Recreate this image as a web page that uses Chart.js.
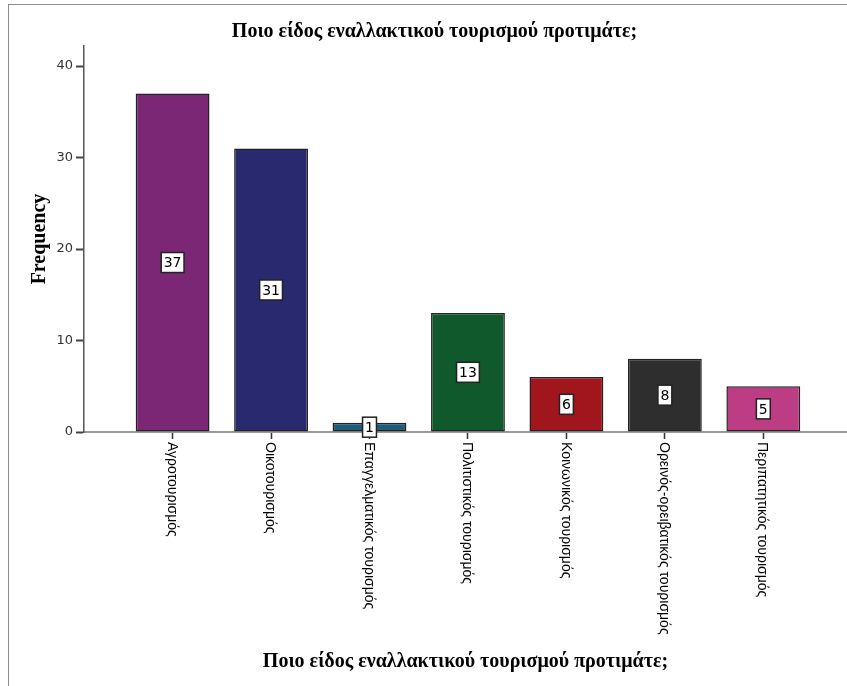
<!DOCTYPE html>
<html>
<head>
<meta charset="utf-8">
<script src="https://cdn.jsdelivr.net/npm/chart.js@4.4.0/dist/chart.umd.min.js"></script>
<style>
    html, body { margin: 0; padding: 0; background: #fff; }
    #wrap { position: relative; width: 847px; height: 686px; overflow: hidden; }
    #frame { position: absolute; left: 8px; top: 4px; width: 900px; height: 800px;
             border-left: 1px solid #8c8c8c; border-top: 1px solid #8c8c8c; pointer-events: none; }
</style>
</head>
<body>
<div id="wrap">
    <canvas id="freqChart" width="847" height="686"></canvas>
    <div id="frame"></div>
</div>
<script>
const chartTitle = 'Ποιο είδος εναλλακτικού τουρισμού προτιμάτε;';
const categories = [
    'Αγροτουρισμός',
    'Οικοτουρισμός',
    'Επαγγελματικός τουρισμός',
    'Πολιτιστικός τουρισμός',
    'Κοινωνικός τουρισμός',
    'Ορεινός-ορειβατικός τουρισμός',
    'Περιπατητικός τουρισμός'
];
const frequencies = [37, 31, 1, 13, 6, 8, 5];
const barColors = ['#7b2776', '#29296f', '#1d5d78', '#10592d', '#a1161d', '#2e2e2e', '#bd3d85'];
const yTicks = [0, 10, 20, 30, 40];

// value boxes in the middle of each bar
const barLabels = {
    id: 'barLabels',
    afterDatasetsDraw(chart) {
        const ctx = chart.ctx;
        const meta = chart.getDatasetMeta(0);
        ctx.save();
        ctx.font = '14px "DejaVu Sans"';
        ctx.textAlign = 'center';
        ctx.textBaseline = 'middle';
        meta.data.forEach((bar, i) => {
            const text = String(frequencies[i]);
            const cy = (bar.y + bar.base) / 2;
            const w = ctx.measureText(text).width + 5;
            const h = 20;
            ctx.fillStyle = '#fff';
            ctx.fillRect(bar.x - w / 2, cy - h / 2, w, h);
            ctx.strokeStyle = '#222';
            ctx.lineWidth = 1.5;
            ctx.strokeRect(bar.x - w / 2, cy - h / 2, w, h);
            ctx.fillStyle = '#000';
            ctx.fillText(text, bar.x, cy + 1);
        });
        ctx.restore();
    }
};

// category names rotated clockwise, reading downward from the tick
const rotatedTicks = {
    id: 'rotatedTicks',
    afterDraw(chart) {
        const ctx = chart.ctx;
        const xScale = chart.scales.x;
        ctx.save();
        ctx.font = '14px "Liberation Sans"';
        ctx.fillStyle = '#000';
        ctx.textAlign = 'left';
        ctx.textBaseline = 'middle';
        categories.forEach((name, i) => {
            ctx.save();
            ctx.translate(xScale.getPixelForValue(i) - 1, xScale.top + 10);
            ctx.rotate(Math.PI / 2);
            ctx.fillText(name, 0, 0);
            ctx.restore();
        });
        ctx.restore();
    }
};

new Chart(document.getElementById('freqChart').getContext('2d'), {
    type: 'bar',
    data: {
        datasets: [{
            label: 'Frequency',
            data: frequencies.map((v, i) => ({ x: i, y: v })),
            backgroundColor: barColors,
            borderColor: '#222',
            borderWidth: 1.5,
            borderSkipped: false,
            barPercentage: 0.75,
            categoryPercentage: 1
        }]
    },
    options: {
        responsive: false,
        animation: false,
        layout: { padding: { left: 22, right: 0, top: 0, bottom: 0 } },
        scales: {
            x: {
                type: 'linear',
                offset: false,
                min: -0.9,
                max: 6.85,
                afterBuildTicks: (scale) => {
                    scale.ticks = categories.map((c, i) => ({ value: i }));
                },
                afterFit: (scale) => { scale.height = 254; },
                ticks: { display: false },
                grid: { offset: false, drawOnChartArea: false, tickLength: 7, color: '#333', tickWidth: 1.5 },
                border: { color: '#9a9a9a', width: 2 },
                title: {
                    display: true,
                    text: chartTitle,
                    color: '#000',
                    font: { family: '"Liberation Serif"', size: 20, weight: 'bold' },
                    padding: { top: 0, bottom: 12 }
                }
            },
            y: {
                min: 0,
                max: 42.2,
                afterBuildTicks: (scale) => {
                    scale.ticks = yTicks.map(v => ({ value: v }));
                },
                afterFit: (scale) => { scale.width = 62; },
                ticks: {
                    color: '#333',
                    padding: 3,
                    font: { family: '"DejaVu Sans"', size: 13 }
                },
                grid: { drawOnChartArea: false, tickLength: 8, color: '#444', tickWidth: 2 },
                border: { color: '#555', width: 1.5 },
                title: {
                    display: true,
                    text: 'Frequency',
                    color: '#000',
                    font: { family: '"Liberation Serif"', size: 20, weight: 'bold' },
                    padding: { top: 6, bottom: 0 }
                }
            }
        },
        plugins: {
            legend: { display: false },
            tooltip: { enabled: false },
            title: {
                display: true,
                text: chartTitle,
                color: '#000',
                font: { family: '"Liberation Serif"', size: 20, weight: 'bold' },
                padding: { top: 20, bottom: 2 }
            }
        }
    },
    plugins: [barLabels, rotatedTicks]
});
</script>
</body>
</html>
